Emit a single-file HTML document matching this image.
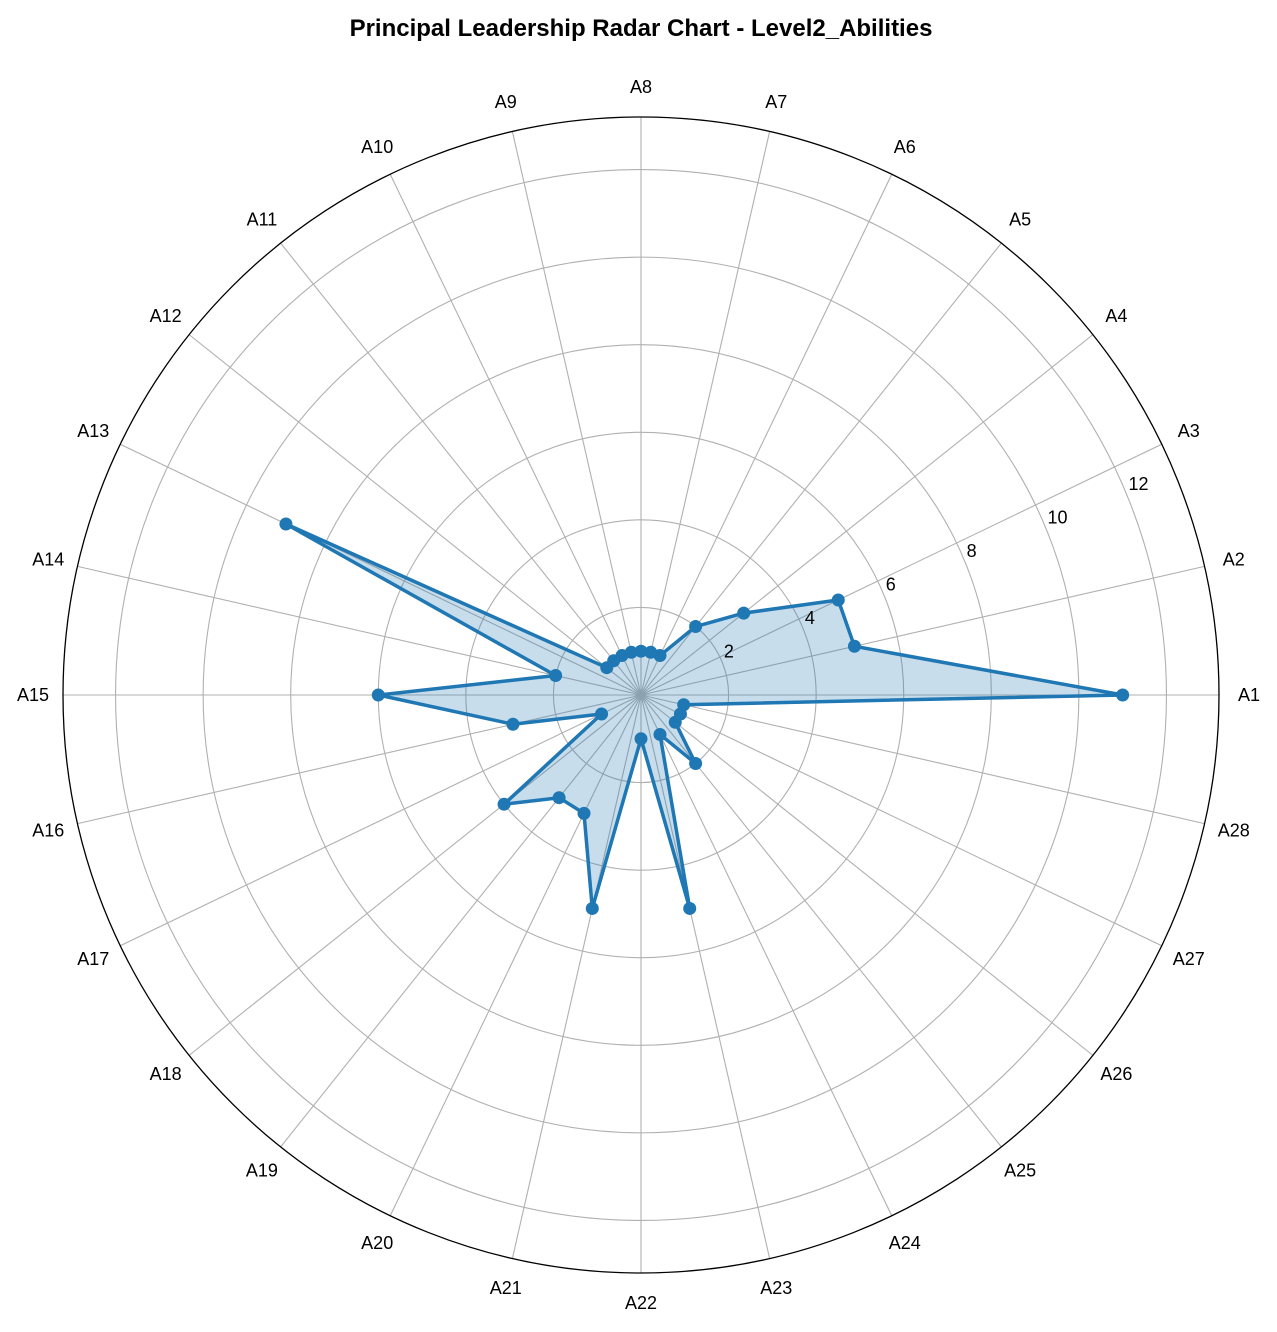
<!DOCTYPE html>
<html><head><meta charset="utf-8"><style>
body{margin:0;background:#fff;}
svg text{font-family:"Liberation Sans","DejaVu Sans",sans-serif;}
</style></head><body>
<svg id="chart" width="1277" height="1327" xmlns="http://www.w3.org/2000/svg">
<text x="641" y="36" text-anchor="middle" font-size="24" font-weight="bold">Principal Leadership Radar Chart - Level2_Abilities</text>
<g id="grid"></g><g id="series"></g><g id="labels"></g>
</svg>
<script>
const categories = ["A1","A2","A3","A4","A5","A6","A7","A8","A9","A10","A11","A12","A13","A14","A15","A16","A17","A18","A19","A20","A21","A22","A23","A24","A25","A26","A27","A28"];
const values = [11,5,5,3,2,1,1,1,1,1,1,1,9,2,6,3,1,4,3,3,5,1,5,1,2,1,1,1];
const rTicks = [2,4,6,8,10,12];
const rMax = 13.2;

const NS="http://www.w3.org/2000/svg";
const cx=641, cy=695, R=578;
const N=categories.length;
function rad(v){return v/rMax*R;}
function ang(i){return i*2*Math.PI/N;}
function pt(i,v){const a=ang(i),r=rad(v);return [cx+r*Math.cos(a), cy-r*Math.sin(a)];}
function mk(tag,attrs,parent){const e=document.createElementNS(NS,tag);for(const k in attrs)e.setAttribute(k,attrs[k]);parent.appendChild(e);return e;}
const grid=document.getElementById('grid'), series=document.getElementById('series'), labels=document.getElementById('labels');

rTicks.forEach(t=>{
  const c=mk('circle',{cx:cx,cy:cy,r:rad(t),fill:'none',stroke:'#b0b0b0','stroke-width':1.1},grid);
  
  
  const a=22.5*Math.PI/180;
  const tx=mk('text',{x:cx+rad(t)*Math.cos(a)+2,y:cy-rad(t)*Math.sin(a)-4,'font-size':18},labels);
  tx.textContent=t;
  
  
});
categories.forEach((c,i)=>{
  const [x,y]=pt(i,rMax);
  const l=mk('line',{x1:cx,y1:cy,x2:x,y2:y,stroke:'#b0b0b0','stroke-width':1.1},grid);
  
  
  const a=ang(i), lr=R+30;
  const t=mk('text',{x:cx+lr*Math.cos(a),y:cy-lr*Math.sin(a)+6,'text-anchor':'middle','font-size':18},labels);
  t.textContent=c;
  
  
});
const outer=mk('circle',{cx:cx,cy:cy,r:R,fill:'none',stroke:'#000','stroke-width':1.3},grid);



const pts=values.map((v,i)=>pt(i,v));
const d=pts.map(p=>p.join(',')).join(' ');
const poly=mk('polygon',{points:d,fill:'#1f77b4','fill-opacity':0.25,stroke:'#1f77b4','stroke-width':3.5,'stroke-linejoin':'round'},series);


pts.forEach((p,i)=>{
  const m=mk('circle',{cx:p[0],cy:p[1],r:6.5,fill:'#1f77b4'},series);
  
  
});
</script>
</body></html>
